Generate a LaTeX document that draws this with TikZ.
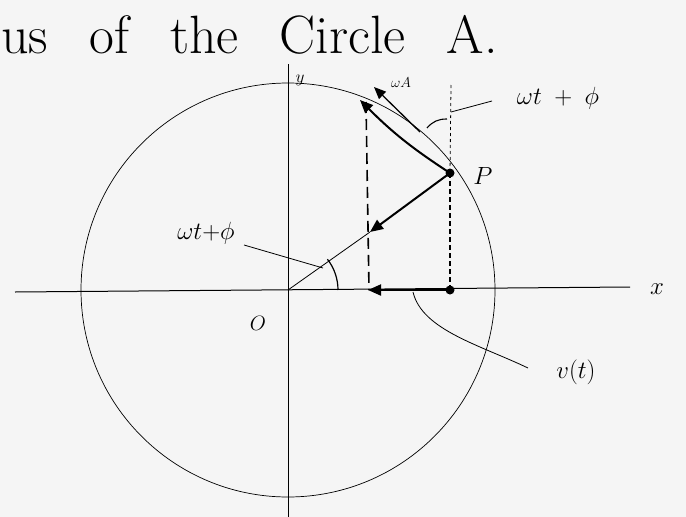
\documentclass[tikz,border=0pt]{standalone}
\usetikzlibrary{arrows.meta}
\begin{document}
\begin{tikzpicture}[x=1pt,y=-1pt,line width=0.8pt,
  thinl/.style={line width=0.8pt},
  vec/.style={line width=2pt,-{Triangle[length=13pt,width=11pt]}},
  thinvec/.style={line width=1.3pt,-{Triangle[length=12pt,width=10pt]}},
  dashv/.style={line width=1.6pt,dash pattern=on 11pt off 6pt},
  dotv/.style={line width=2.2pt,dash pattern=on 5pt off 3pt},
  lbl/.style={inner sep=0pt}]
\fill[gray!8] (0,0) rectangle (686,517);
\useasboundingbox (0,0) rectangle (686,517);
% title
\node[lbl,anchor=base west] (title) at (1,53)
  {\fontsize{54}{58}\selectfont\spaceskip=41pt us of the Circle A.};
% points
\coordinate (O) at (288,290);
\coordinate (xl) at (15,292);
\coordinate (xr) at (630,287);
\coordinate (yt) at (288,64);
\coordinate (yb) at (288,517);
\coordinate (P) at (450,173);
\coordinate (Q) at (450,290);
\coordinate (Ptop) at (451,85);
\coordinate (Lt) at (366,102);
\coordinate (Lb) at (369,290);
\coordinate (Aa) at (370,232);
\coordinate (Ax) at (368,290);
\coordinate (T1) at (360,100);
\coordinate (T2s) at (420,132);
\coordinate (T2) at (374,87);
% circle and axes
\draw[line width=0.7pt] (O) circle (207);
\draw[line width=1pt] (xl) -- (xr);
\draw[line width=1pt] (yt) -- (yb);
% projections
\draw[thinl,dashed] (Ptop) -- (P);
\draw[dotv] (P) -- (Q);
\draw[dashv] (Lt) -- (Lb);
% radius and acceleration
\draw[thinl] (O) -- (Aa);
\draw[vec] (P) -- (Aa);
% x-axis velocity
\draw[vec] (Q) -- (Ax);
% tangent vectors
\draw[vec] (P) to[bend left=6] (T1);
\draw[thinvec] (T2s) -- (T2);
% dots
\fill (P) circle (4.5);
\fill (Q) circle (4.5);
% angle at O
\draw[line width=1.2pt] (338,290) arc[start angle=0,end angle=-38,radius=50];
\draw[thinl] (244,245) -- (323,268);
\node[lbl] (lw1) at (206,233) {\fontsize{25}{27}\selectfont$\omega t{+}\phi$};
% angle at top
\draw[line width=1.1pt] (427,128) to[bend left=25] (447,119);
\draw[thinl] (451,112) -- (492,101);
\node[lbl] (lw2) at (558,98) {\fontsize{30}{32}\selectfont$\omega t\;+\;\phi$};
\node[lbl] (wA) at (401,83) {\fontsize{14}{16}\selectfont$\omega A$};
% v(t)
\draw[thinl] (413,292) .. controls (422,330) and (480,345) .. (528,368);
\node[lbl] (vt) at (576,372) {\fontsize{30}{32}\selectfont$v(t)$};
% labels
\node[lbl] (xlab) at (657,289) {\fontsize{34}{36}\selectfont$x$};
\node[lbl] (ylab) at (300,80) {\fontsize{18}{20}\selectfont$y$};
\node[lbl] (Olab) at (258,323) {\fontsize{22}{24}\selectfont$O$};
\node[lbl] (Plab) at (483,176) {\fontsize{28}{30}\selectfont$P$};
\end{tikzpicture}
\end{document}
